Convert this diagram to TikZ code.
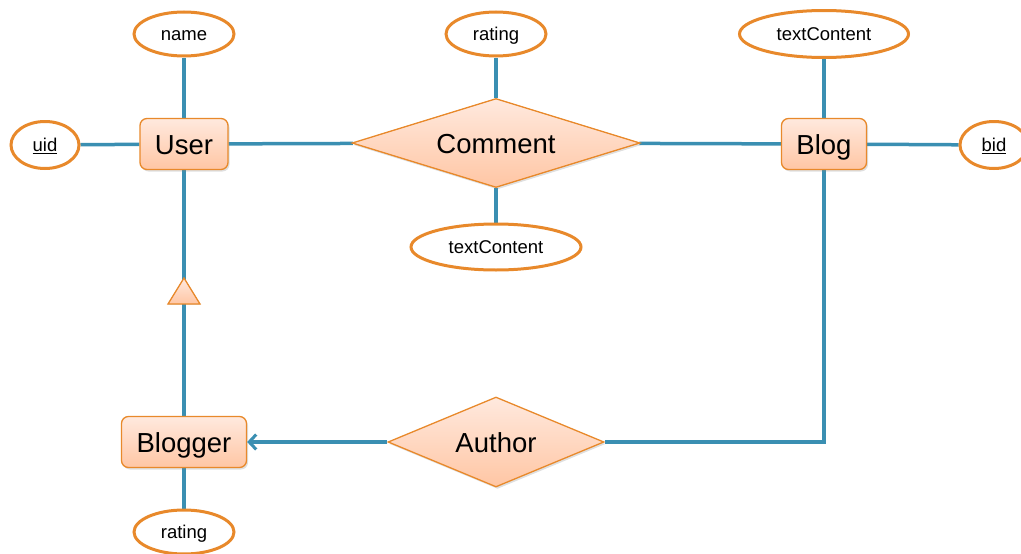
\documentclass[tikz,border=0pt]{standalone}
\usepackage{fontspec}
\setmainfont{Liberation Sans}
\usetikzlibrary{shapes.geometric,arrows.meta,backgrounds,shadows}
\definecolor{edgeblue}{HTML}{3A8FB2}
\definecolor{orng}{HTML}{E8892B}
\definecolor{peachtop}{HTML}{FFE9DE}
\definecolor{peachbot}{HTML}{FFC6A4}
\tikzset{
  entity/.style={draw=orng, line width=1.3pt, rounded corners=7pt, top color=peachtop, bottom color=peachbot,
    minimum height=51pt, inner sep=0pt, font=\fontsize{27.5}{30}\selectfont, text height=20pt, text depth=0pt,
    drop shadow={opacity=0.25, shadow xshift=1.5pt, shadow yshift=-2pt}},
  rel/.style={diamond, draw=orng, line width=1.3pt, top color=peachtop, bottom color=peachbot,
    inner sep=0pt, font=\fontsize{27.5}{30}\selectfont, text height=20pt, text depth=0pt,
    drop shadow={opacity=0.25, shadow xshift=1.5pt, shadow yshift=-2pt}},
  attr/.style={ellipse, draw=orng, line width=3pt, fill=white, inner sep=0pt,
    minimum height=44pt, font=\fontsize{18.5}{20}\selectfont, text height=13.5pt, text depth=0pt},
  conn/.style={draw=edgeblue, line width=3.5pt},
}
\begin{document}
\begin{tikzpicture}[x=1pt,y=-1pt]
\useasboundingbox (0,0) rectangle (1021,554);
% entities
\node[entity, minimum width=88pt] (user) at (184,144) {User};
\node[entity, minimum width=85pt] (blog) at (824,144) {Blog};
\node[entity, minimum width=125pt] (blogger) at (184,442) {Blogger};
% relationships
\node[rel, aspect=3.24, minimum width=288pt, minimum height=89pt] (comment) at (496,143) {Comment};
\node[rel, aspect=2.4, minimum width=216pt, minimum height=90pt] (author) at (496,442) {Author};
% attributes
\node[attr, minimum width=100pt] (name) at (184,34) {name};
\node[attr, minimum width=68pt, minimum height=47pt] (uid) at (45,145) {\underline{uid}};
\node[attr, minimum width=100pt] (crating) at (496,34) {rating};
\node[attr, minimum width=170pt, minimum height=46pt] (ctext) at (496,247) {textContent};
\node[attr, minimum width=169pt, minimum height=47pt] (btext) at (824,34) {textContent};
\node[attr, minimum width=68pt, minimum height=47pt] (bid) at (994,145) {\underline{bid}};
\node[attr, minimum width=100pt] (brating) at (184,532) {rating};
\coordinate (corner) at (824,442);
% connectors
\begin{scope}[on background layer]
\draw[conn] (name) -- (user);
\draw[conn] (uid) -- (user);
\draw[conn] (user) -- (comment);
\draw[conn] (comment) -- (blog);
\draw[conn] (crating) -- (comment);
\draw[conn] (comment) -- (ctext);
\draw[conn] (btext) -- (blog);
\draw[conn] (blog) -- (bid);
\draw[conn] (user) -- (blogger);
\draw[conn] (blogger) -- (brating);
\draw[conn] (blog.south) -- (corner) -- (author.east);
\end{scope}
\draw[conn, -{Straight Barb[length=7pt,width=15pt,line width=3pt]}] (author.west) -- (blogger.east);
% ISA triangle
\filldraw[draw=orng, line width=1.3pt, top color=peachtop, bottom color=peachbot] (168,304) -- (184,278) -- (200,304) -- cycle;
\end{tikzpicture}
\end{document}
